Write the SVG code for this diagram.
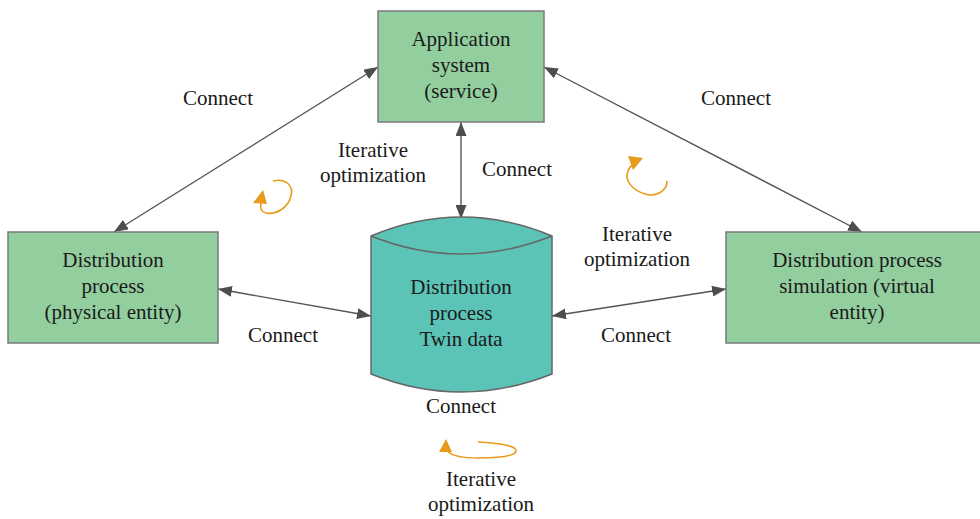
<svg xmlns="http://www.w3.org/2000/svg" width="980" height="519" viewBox="0 0 980 519">
<defs>
<marker id="ah" viewBox="0 0 14 11" refX="14" refY="5.5" markerWidth="14" markerHeight="11" markerUnits="userSpaceOnUse" orient="auto-start-reverse">
<path d="M0,0 L14,5.5 L0,11 Z" fill="#4d4d4d"/>
</marker>
<style>
text{font-family:"Liberation Serif","Times New Roman",serif;font-size:21px;fill:#1a1a1a;text-anchor:middle}
.box{fill:#93CE9F;stroke:#7a7a7a;stroke-width:1.5}
.cyl{fill:#5BC4B6;stroke:#666;stroke-width:1.5}
.conn line{stroke:#555;stroke-width:1.4;marker-start:url(#ah);marker-end:url(#ah)}
.loop{fill:none;stroke:#E89A1A;stroke-width:1.6}
.tri{fill:#E89A1A}
</style>
</defs>
<rect width="980" height="519" fill="#fff"/>
<g class="conn" id="connectors">
<line x1="114" y1="232" x2="378" y2="67"/>
<line x1="544" y1="67" x2="862" y2="232"/>
<line x1="461" y1="122" x2="461" y2="219"/>
<line x1="218" y1="289" x2="371" y2="316"/>
<line x1="552" y1="316" x2="726" y2="289"/>
</g>
<g id="app">
<rect class="box" x="378" y="11" width="166" height="111"/>
<text x="461" y="46">Application</text>
<text x="461" y="72">system</text>
<text x="461" y="98">(service)</text>
</g>
<g id="physical">
<rect class="box" x="8" y="232" width="210" height="111"/>
<text x="113" y="267">Distribution</text>
<text x="113" y="293">process</text>
<text x="113" y="319">(physical entity)</text>
</g>
<g id="virtual">
<rect class="box" x="726" y="232" width="262" height="111"/>
<text x="857" y="267">Distribution process</text>
<text x="857" y="293">simulation (virtual</text>
<text x="857" y="319">entity)</text>
</g>
<g id="twin">
<path class="cyl" d="M371,236 Q461,198 552,236 L552,374 Q461,410 371,374 Z"/>
<path class="cyl" d="M371,236 Q461,272 552,236" style="fill:none"/>
<text x="461" y="294">Distribution</text>
<text x="461" y="320">process</text>
<text x="461" y="346">Twin data</text>
</g>
<g id="labels">
<text x="218" y="105">Connect</text>
<text x="736" y="105">Connect</text>
<text x="373" y="157">Iterative</text>
<text x="373" y="182">optimization</text>
<text x="517" y="176">Connect</text>
<text x="637" y="241">Iterative</text>
<text x="637" y="266">optimization</text>
<text x="283" y="342">Connect</text>
<text x="636" y="342">Connect</text>
<text x="461" y="413">Connect</text>
<text x="481" y="486">Iterative</text>
<text x="481" y="511">optimization</text>
</g>
<g id="loops">
<path class="loop" d="M273,181 C285,178 294,185 291,196 C288,208 276,215 266,213 C261,212 260,208 261,203"/>
<polygon class="tri" points="253,203 263,190 267,204"/>
<path class="loop" d="M667,181 C667,192 655,197 645,194 C632,190 624,180 628,171 C629,168 631,166 633,165"/>
<polygon class="tri" points="628,156 643,158 633,170"/>
<path class="loop" d="M478,442 C500,443 517,446 516,451 C515,457 495,458 478,458 C465,458 453,456 448,452"/>
<polygon class="tri" points="439,452 446,439 452,452"/>
</g>
</svg>
